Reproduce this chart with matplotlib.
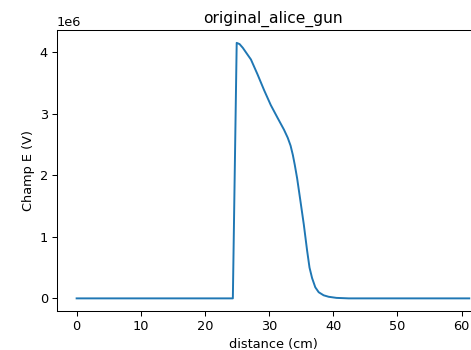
import numpy as np
import matplotlib
matplotlib.use("Agg")
import matplotlib.pyplot as plt

# field profile (distance in cm, field in 1e6 V)
distance = [0, 24.35, 24.95, 25.4, 25.9, 26.5, 27.17, 28.19, 29.23, 30.26, 31.28,
            32.32, 32.9, 33.35, 33.7, 34.0, 34.37, 34.65, 34.9, 35.41, 35.92,
            36.3, 36.7, 37.2, 37.73, 38.5, 39.28, 40.5, 42.4, 61.2]
champ = [0, 0, 4.15, 4.13, 4.07, 3.98, 3.88, 3.64, 3.38, 3.14, 2.94,
         2.74, 2.61, 2.48, 2.33, 2.17, 1.95, 1.75, 1.57, 1.20, 0.78,
         0.50, 0.33, 0.18, 0.10, 0.05, 0.026, 0.008, 0.0, 0.0]

x = np.asarray(distance)
y = np.asarray(champ) * 1e6

dpi = 93
fig = plt.figure(figsize=(471 / dpi, 350 / dpi), dpi=dpi)
# the original figure was cropped on the right, so the axes run past the edge
ax = fig.add_axes([0.121, 0.111, 0.917, 0.803])
ax.plot(x, y)
ax.set_title("original_alice_gun")
ax.set_xlabel("distance (cm)")
ax.set_ylabel("Champ E (V)")

plt.savefig("out.png", dpi=dpi)
